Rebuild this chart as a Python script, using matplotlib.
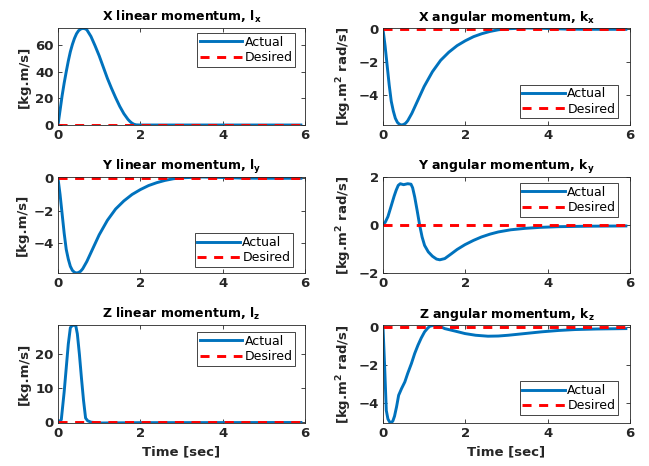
import numpy as np
import matplotlib
matplotlib.use("Agg")
import matplotlib.pyplot as plt

plt.rcParams['font.family'] = ['DejaVu Sans']
plt.rcParams['mathtext.default'] = 'bf'
plt.rcParams['font.size'] = 9

# ---- data ----
t_end = 5.9
desired_t = [0.0, t_end]
desired_v = [0.0, 0.0]

lx_t = [0, 0.05, 0.1, 0.15, 0.2, 0.25, 0.3, 0.35, 0.4, 0.45, 0.5, 0.55, 0.6,
        0.65, 0.7, 0.8, 0.9, 1.0, 1.1, 1.2, 1.3, 1.4, 1.5, 1.6, 1.7, 1.75,
        1.8, 1.85, 1.9, 2.0, 5.9]
lx_v = [0, 11, 22, 31.5, 40, 48, 55, 60.5, 65, 68.5, 70.8, 72, 72.5, 72.3,
        71.5, 66.5, 59.5, 52, 43.5, 35, 27.5, 20.5, 14, 8.5, 4.2, 2.6, 1.3,
        0.5, 0.1, 0, 0]

kx_t = [0, 0.05, 0.1, 0.15, 0.2, 0.25, 0.3, 0.35, 0.4, 0.45, 0.5, 0.55, 0.6,
        0.7, 0.8, 0.9, 1.0, 1.2, 1.4, 1.6, 1.8, 2.0, 2.2, 2.4, 2.6, 2.8, 3.0,
        3.5, 4.0, 4.5, 5.0, 5.9]
kx_v = [0, -1.0, -2.2, -3.4, -4.4, -5.0, -5.45, -5.7, -5.82, -5.86, -5.83,
        -5.75, -5.6, -5.15, -4.6, -4.05, -3.5, -2.6, -1.9, -1.4, -1.0, -0.7,
        -0.45, -0.27, -0.13, -0.03, 0.03, 0.08, 0.05, 0.01, 0, 0]

ly_t = [0, 0.05, 0.1, 0.15, 0.2, 0.25, 0.3, 0.35, 0.4, 0.45, 0.5, 0.55, 0.6,
        0.7, 0.8, 0.9, 1.0, 1.2, 1.4, 1.6, 1.8, 2.0, 2.2, 2.4, 2.6, 2.8, 3.0,
        3.5, 4.0, 4.5, 5.0, 5.9]
ly_v = [0, -1.0, -2.2, -3.4, -4.4, -5.0, -5.45, -5.7, -5.82, -5.86, -5.83,
        -5.75, -5.6, -5.15, -4.6, -4.05, -3.5, -2.6, -1.9, -1.4, -1.0, -0.7,
        -0.45, -0.27, -0.13, -0.03, 0.03, 0.08, 0.05, 0.01, 0, 0]

ky_t = [0, 0.05, 0.12, 0.2, 0.27, 0.32, 0.37, 0.42, 0.5, 0.6, 0.68, 0.72,
        0.77, 0.83, 0.89, 0.95, 1.01, 1.1, 1.2, 1.3, 1.38, 1.5, 1.66, 1.8,
        1.99, 2.2, 2.39, 2.6, 2.8, 3.1, 3.45, 3.8, 4.26, 5.0, 5.9]
ky_v = [0.05, 0.1, 0.35, 0.8, 1.2, 1.45, 1.65, 1.72, 1.68, 1.72, 1.7, 1.55,
        1.17, 0.6, 0.0, -0.5, -0.85, -1.12, -1.3, -1.42, -1.45, -1.4, -1.2,
        -1.02, -0.82, -0.64, -0.5, -0.38, -0.29, -0.2, -0.14, -0.1, -0.07,
        -0.05, -0.04]

lz_t = [0, 0.05, 0.08, 0.15, 0.2, 0.25, 0.3, 0.35, 0.43, 0.47, 0.52, 0.57,
        0.62, 0.67, 0.72, 0.8, 1.0, 1.5, 2.0, 5.9]
lz_v = [0.3, 0.5, 0.8, 9, 16, 23, 27.8, 28.5, 28.5, 26, 20, 13, 6.5, 1.3,
        0.5, 0.1, -0.15, -0.1, -0.05, 0]

kz_t = [0, 0.04, 0.08, 0.12, 0.16, 0.2, 0.24, 0.28, 0.33, 0.38, 0.45, 0.53,
        0.6, 0.69, 0.77, 0.85, 0.93, 1.01, 1.08, 1.14, 1.26, 1.38, 1.5, 1.75,
        1.99, 2.25, 2.55, 2.8, 3.04, 3.4, 3.85, 4.25, 4.66, 5.2, 5.9]
kz_v = [0, -2.1, -4.4, -4.85, -5.0, -5.05, -4.95, -4.7, -4.2, -3.6, -3.25,
        -2.9, -2.45, -1.93, -1.4, -0.96, -0.58, -0.26, -0.08, 0.04, 0.09,
        0.03, -0.09, -0.22, -0.35, -0.44, -0.49, -0.48, -0.44, -0.36, -0.26,
        -0.19, -0.14, -0.11, -0.09]

titles = ["X linear momentum, l$_x$", "X angular momentum, k$_x$",
          "Y linear momentum, l$_y$", "Y angular momentum, k$_y$",
          "Z linear momentum, l$_z$", "Z angular momentum, k$_z$"]
lin_label = "[kg.m/s]"
ang_label = "[kg.m$^2$ rad/s]"

series = [(lx_t, lx_v), (kx_t, kx_v), (ly_t, ly_v),
          (ky_t, ky_v), (lz_t, lz_v), (kz_t, kz_v)]
ylims = [(0, 72.8), (-5.86, 0.08), (-5.86, 0.08), (-2, 2), (-0.15, 28.6), (-5.06, 0.1)]
yticks = [[0, 20, 40, 60], [-4, -2, 0], [-4, -2, 0], [-2, 0, 2], [0, 10, 20], [-4, -2, 0]]
# legend anchor corner (axes coords), loc
legends = [((0.960, 0.948), 'upper right'), ((0.951, 0.072), 'lower right'),
           ((0.951, 0.063), 'lower right'), ((0.951, 0.937), 'upper right'),
           ((0.960, 0.928), 'upper right'), ((0.951, 0.082), 'lower right')]

W, H = 649, 466
fig = plt.figure(figsize=(W / 100, H / 100), dpi=100)
lefts = [58, 383]
rows = [(28, 125), (177, 273), (325, 423)]
ax_w = 247
dark = '#262626'

for i in range(6):
    r, c = divmod(i, 2)
    top, bot = rows[r]
    ax = fig.add_axes([lefts[c] / W, 1 - bot / H, ax_w / W, (bot - top) / H])
    t, v = series[i]
    ax.plot(t, v, color='#0072BD', lw=2.1, label='Actual')
    ax.plot(desired_t, desired_v, color='red', lw=2.1, dashes=(3.1, 2.6), label='Desired')
    ax.set_xlim(0, 6)
    ax.set_ylim(*ylims[i])
    ax.set_xticks([0, 2, 4, 6])
    ax.set_yticks(yticks[i])
    ax.tick_params(direction='in', top=True, right=True, length=3, width=0.6,
                   colors=dark, labelsize=9.5, pad=3)
    for lab in ax.get_xticklabels() + ax.get_yticklabels():
        lab.set_fontweight('bold')
    for s in ax.spines.values():
        s.set_color(dark)
        s.set_linewidth(0.6)
    ax.set_title(titles[i], fontweight='bold', fontsize=9, color='black', pad=5)
    ax.set_ylabel(ang_label if c == 1 else lin_label, fontweight='bold',
                  fontsize=9.5, color=dark, labelpad=3)
    if r == 2:
        ax.set_xlabel("Time [sec]", fontweight='bold', fontsize=9.5, color=dark)
    anchor, loc = legends[i]
    leg = ax.legend(loc=loc, bbox_to_anchor=anchor, borderaxespad=0,
                    fancybox=False, framealpha=1, edgecolor=dark,
                    handlelength=3.4, handletextpad=0.2, borderpad=0.2,
                    labelspacing=0.2, fontsize=9)
    leg.get_frame().set_linewidth(0.6)

fig.savefig("out.png", dpi=100)
